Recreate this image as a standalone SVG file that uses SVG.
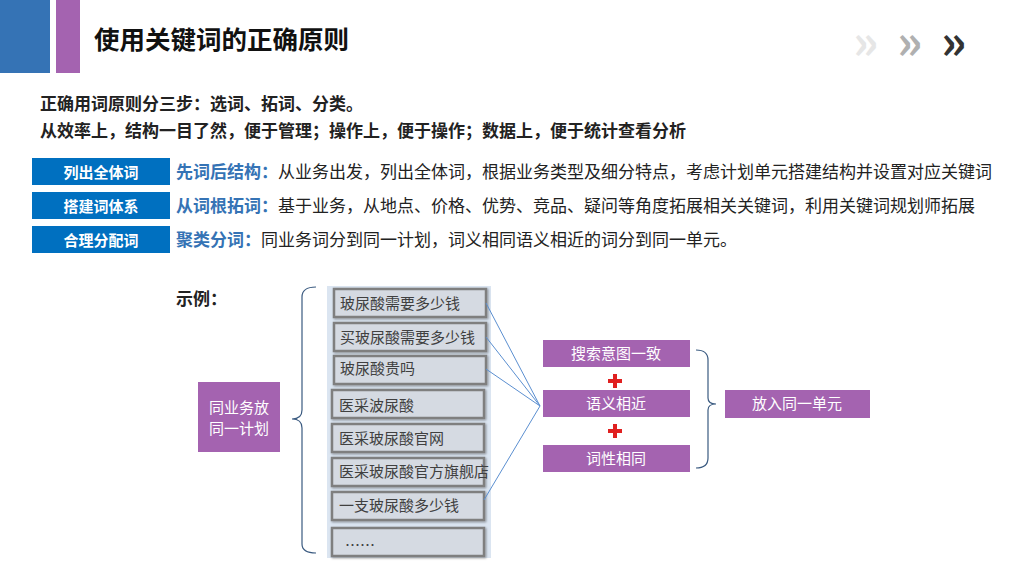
<svg xmlns="http://www.w3.org/2000/svg" width="1024" height="576" viewBox="0 0 1024 576">
<defs><style>
text{font-family:"Noto Sans CJK SC","Liberation Sans",sans-serif}
.t{font-size:17px;fill:#222}
.b{font-weight:bold}
.lab{fill:#0070c0}
.kw{fill:#d5dae2;stroke:#7f7f7f;stroke-width:2.5}
.kt{font-size:15px;fill:#404040}
.pp{fill:#a463b0}
.wt{fill:#fff;font-size:15px}
</style>
<filter id="sh"><feDropShadow dx="1" dy="1" stdDeviation="1" flood-opacity="0.4"/></filter>
</defs>
<rect width="1024" height="576" fill="#fff"/>
<rect x="0" y="0" width="50" height="73" fill="#3573b5"/>
<rect x="56" y="0" width="24" height="73" fill="#a463b0"/>
<text x="94" y="49" font-size="25.5" font-weight="bold" fill="#111">使用关键词的正确原则</text>
<g font-size="48" font-weight="bold" font-family="Liberation Sans">
<text x="853" y="59" fill="#e6e6e6">»</text><text x="897" y="59" fill="#b0b0b0">»</text><text x="941" y="59" fill="#333">»</text></g>
<text x="40" y="110" class="t b">正确用词原则分三步：选词、拓词、分类。</text>
<text x="40" y="137" class="t b">从效率上，结构一目了然，便于管理；操作上，便于操作；数据上，便于统计查看分析</text>
<g id="rows">
<rect x="32" y="158" width="138" height="27" class="lab"/><text x="101" y="178" text-anchor="middle" class="wt b" font-size="16">列出全体词</text>
<rect x="32" y="192" width="138" height="27" class="lab"/><text x="101" y="212" text-anchor="middle" class="wt b" font-size="16">搭建词体系</text>
<rect x="32" y="226" width="138" height="27" class="lab"/><text x="101" y="246" text-anchor="middle" class="wt b" font-size="16">合理分配词</text>
<text x="176" y="178" class="t"><tspan fill="#3573b5" font-weight="bold">先词后结构：</tspan>从业务出发，列出全体词，根据业务类型及细分特点，考虑计划单元搭建结构并设置对应关键词</text>
<text x="176" y="212" class="t"><tspan fill="#3573b5" font-weight="bold">从词根拓词：</tspan>基于业务，从地点、价格、优势、竞品、疑问等角度拓展相关关键词，利用关键词规划师拓展</text>
<text x="176" y="246" class="t"><tspan fill="#3573b5" font-weight="bold">聚类分词：</tspan>同业务词分到同一计划，词义相同语义相近的词分到同一单元。</text>
</g>
<text x="176" y="305" class="t b" font-size="18">示例：</text>
<g id="plan"><rect x="198" y="382" width="82" height="70" class="pp"/>
<text x="239" y="413" text-anchor="middle" class="wt">同业务放</text><text x="239" y="434" text-anchor="middle" class="wt">同一计划</text></g>
<path d="M316,287 Q302,287 302,297 L302,410 Q302,419 292,419 Q302,419 302,428 L302,544 Q302,553 316,553" fill="none" stroke="#3a5a80" stroke-width="1.2"/>
<rect x="327" y="286" width="164" height="272" fill="#dbe5f1"/>
<g id="kws" filter="url(#sh)">
<rect x="334" y="289" width="152" height="28" class="kw"/><rect x="334" y="323" width="152" height="28" class="kw"/>
<rect x="334" y="356" width="152" height="28" class="kw"/><rect x="332" y="390" width="152" height="28" class="kw"/>
<rect x="332" y="424" width="152" height="28" class="kw"/><rect x="332" y="458" width="152" height="28" class="kw"/>
<rect x="332" y="492" width="152" height="28" class="kw"/><rect x="332" y="528" width="152" height="28" class="kw"/>
</g>
<g class="kt">
<text x="340" y="309" class="kt">玻尿酸需要多少钱</text><text x="340" y="343" class="kt">买玻尿酸需要多少钱</text>
<text x="340" y="374" class="kt">玻尿酸贵吗</text><text x="339" y="411" class="kt">医采波尿酸</text>
<text x="339" y="444" class="kt">医采玻尿酸官网</text><text x="339" y="477" class="kt">医采玻尿酸官方旗舰店</text>
<text x="339" y="511" class="kt">一支玻尿酸多少钱</text><text x="345" y="551" class="kt">……</text></g>
<g id="connectors" stroke="#5b8fd0" stroke-width="1" fill="none">
<path d="M486,303 L540,406 M486,337 L540,406 M486,369 L540,406 M484,500 L540,406"/>
<path d="M696,350 Q708,350 708,360 L708,398 Q708,404 716,404 Q708,404 708,410 L708,458 Q708,468 696,468" stroke="#3a5a80" stroke-width="1.2"/>
</g>
<g id="groups">
<rect x="543" y="340" width="147" height="27" class="pp"/><text x="616" y="359" text-anchor="middle" class="wt">搜索意图一致</text>
<rect x="543" y="390" width="147" height="27" class="pp"/><text x="616" y="409" text-anchor="middle" class="wt">语义相近</text>
<rect x="543" y="445" width="147" height="27" class="pp"/><text x="616" y="464" text-anchor="middle" class="wt">词性相同</text>
<path d="M608,381h14M615,374v14M608,431h14M615,424v14" stroke="#e02020" stroke-width="4"/>
<rect x="725" y="390" width="145" height="28" class="pp"/><text x="797" y="409" text-anchor="middle" class="wt">放入同一单元</text>
</g>
</svg>
